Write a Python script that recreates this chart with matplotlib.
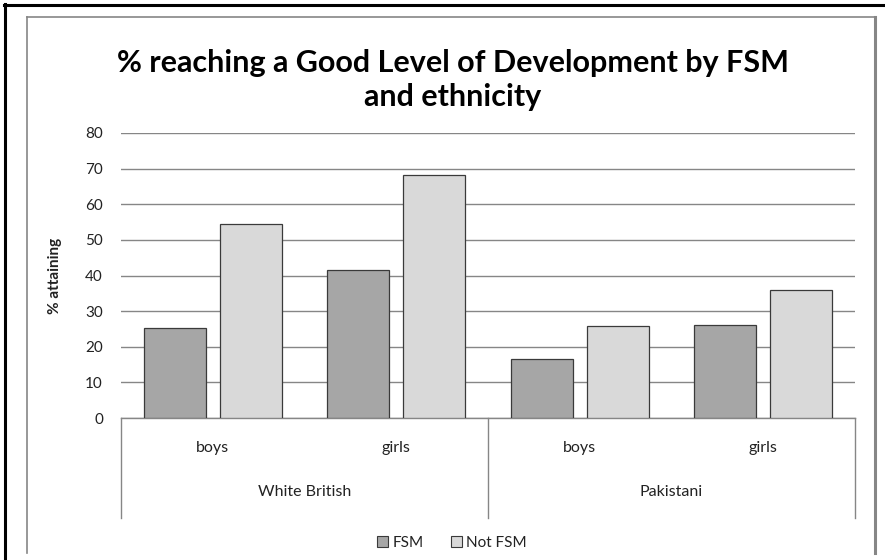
import numpy as np
import matplotlib
matplotlib.use("Agg")
import matplotlib.pyplot as plt
from matplotlib.lines import Line2D
from matplotlib.patches import Rectangle, Patch

plt.rcParams['font.family'] = ['Lato', 'DejaVu Sans']

# data
groups = ["White British", "Pakistani"]
subgroups = ["boys", "girls", "boys", "girls"]
fsm = [25.3, 41.5, 16.7, 26.1]
not_fsm = [54.4, 68.2, 25.8, 35.9]
yticks = [0, 10, 20, 30, 40, 50, 60, 70, 80]

W, H = 885, 560
fig = plt.figure(figsize=(W / 100, H / 100), dpi=100)

def fx(x):
    return x / W

def fy(y):
    return 1 - y / H

# plot area in pixels: x 121..855, y 133..418
ax = fig.add_axes([fx(121), fy(418), fx(855) - fx(121), fy(133) - fy(418)])

x = np.arange(len(subgroups))
bw = 0.338
ax.bar(x - 0.208, fsm, width=bw, color="#a6a6a6", edgecolor="#3a3a3a",
       linewidth=0.9, zorder=3, label="FSM")
ax.bar(x + 0.208, not_fsm, width=bw, color="#d9d9d9", edgecolor="#3a3a3a",
       linewidth=0.9, zorder=3, label="Not FSM")

ax.set_xlim(-0.5, 3.5)
ax.set_ylim(0, 80)
ax.set_yticks(yticks)
ax.yaxis.grid(True, color="#868686", linewidth=1.0, zorder=0)
ax.tick_params(axis="y", length=0, pad=13, labelsize=11, labelcolor="#222222")
ax.set_xticks([])
for s in ["left", "right", "top"]:
    ax.spines[s].set_visible(False)
ax.spines["bottom"].set_color("#868686")
ax.spines["bottom"].set_linewidth(1.0)

ax.set_ylabel("% attaining", fontsize=11, fontweight="bold", color="#222222")
ax.yaxis.set_label_coords(-0.0804, 0.5)

# two-level category axis
trans = ax.get_xaxis_transform()
for i, lab in enumerate(subgroups):
    ax.text(i, -0.105, lab, transform=trans, ha="center", va="center",
            fontsize=11.5, color="#222222")
for j, g in enumerate(groups):
    ax.text(2 * j + 0.5, -0.26, g, transform=trans, ha="center", va="center",
            fontsize=11.5, color="#222222")
for xv in [-0.5, 1.5, 3.5]:
    ax.plot([xv, xv], [0, -0.351], transform=trans, color="#868686",
            linewidth=1.0, clip_on=False)

# title
fig.text(fx(453), fy(80), "% reaching a Good Level of Development by FSM\nand ethnicity",
         ha="center", va="center", fontsize=22, fontweight="bold",
         linespacing=1.25, color="#000000")

# legend
handles = [Patch(facecolor="#a6a6a6", edgecolor="#3a3a3a", linewidth=0.8, label="FSM"),
           Patch(facecolor="#d9d9d9", edgecolor="#3a3a3a", linewidth=0.8, label="Not FSM")]
fig.legend(handles=handles, loc="center", bbox_to_anchor=(fx(452), fy(543)),
           ncol=2, frameon=False, fontsize=11, handlelength=0.7, handleheight=0.7,
           handletextpad=0.3, columnspacing=1.8, labelcolor="#222222")

# bottom of the picture is cropped
fig.patches.append(Rectangle((fx(29), 0), fx(873) - fx(29), fy(548),
                             transform=fig.transFigure, facecolor="white",
                             edgecolor="none", zorder=5))

# chart area border (gray) and outer frame (black)
g = "#868686"
fig.lines.append(Line2D([fx(27), fx(875)], [fy(17), fy(17)], color=g, lw=1.2,
                        transform=fig.transFigure, zorder=6))
fig.lines.append(Line2D([fx(27), fx(27)], [fy(17), fy(553)], color=g, lw=1.2,
                        transform=fig.transFigure, zorder=6))
fig.lines.append(Line2D([fx(875), fx(875)], [fy(17), fy(553)], color=g, lw=2.2,
                        transform=fig.transFigure, zorder=6))
fig.lines.append(Line2D([fx(4), fx(885)], [fy(5), fy(5)], color="black", lw=2.2,
                        transform=fig.transFigure, zorder=6))
fig.lines.append(Line2D([fx(5), fx(5)], [fy(4), fy(560)], color="black", lw=2.2,
                        transform=fig.transFigure, zorder=6))

fig.savefig("out.png", dpi=100)
